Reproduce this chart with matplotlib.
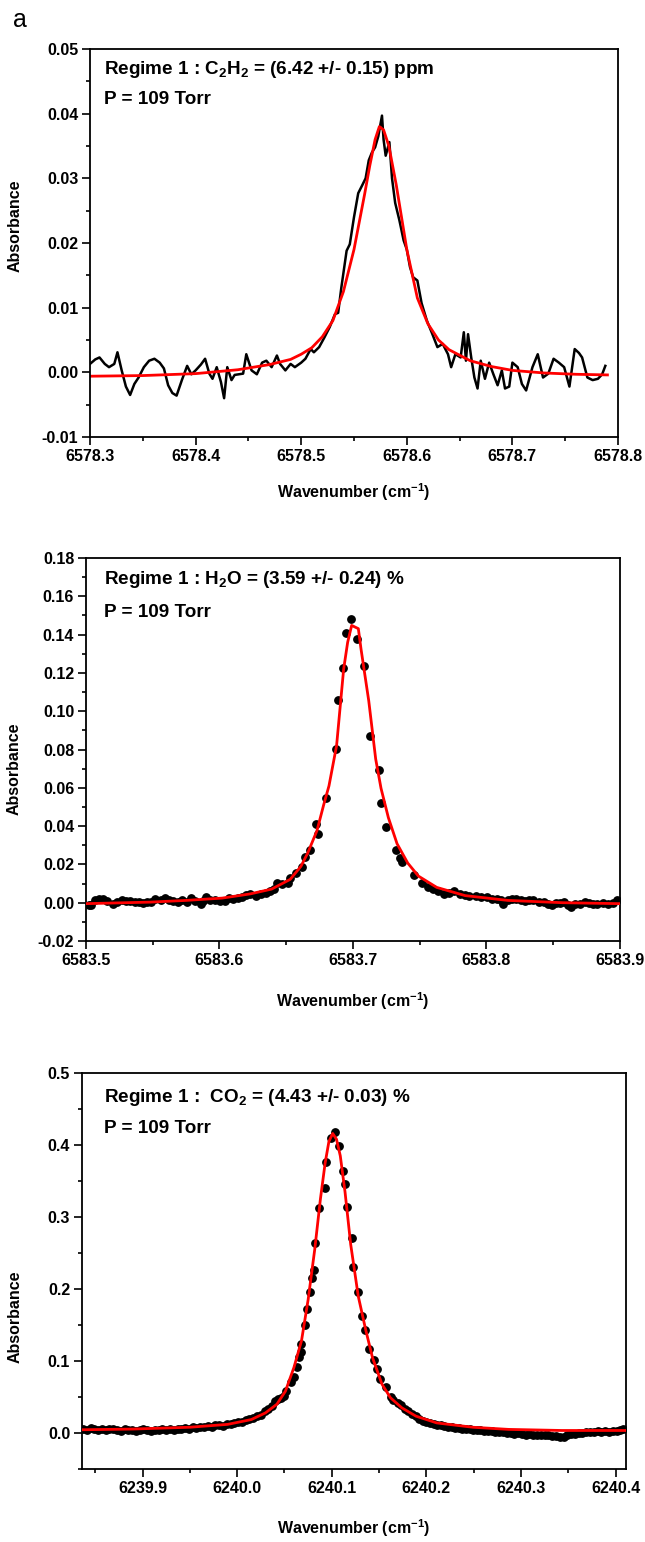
# -*- coding: utf-8 -*-

import matplotlib
matplotlib.use('Agg')
import matplotlib.pyplot as plt
from matplotlib.ticker import MultipleLocator, FormatStrFormatter

# шрифти як у Origin (Arial bold)
plt.rcParams['font.family'] = ['Liberation Sans', 'DejaVu Sans']
plt.rcParams['font.weight'] = 'bold'
plt.rcParams['mathtext.fontset'] = 'custom'
plt.rcParams['mathtext.rm'] = 'Liberation Sans:bold'
plt.rcParams['mathtext.bf'] = 'Liberation Sans:bold'
plt.rcParams['mathtext.it'] = 'Liberation Sans:bold'

# ---- панель 1: C2H2, виміряний спектр (лінія) + фіт
c2h2_x = [6578.300, 6578.305, 6578.309, 6578.314, 6578.318, 6578.323, 6578.326, 6578.330,
          6578.334, 6578.338, 6578.342, 6578.346, 6578.351, 6578.356, 6578.361, 6578.366,
          6578.370, 6578.374, 6578.378, 6578.382, 6578.387, 6578.392, 6578.396, 6578.400,
          6578.405, 6578.409, 6578.413, 6578.416, 6578.420, 6578.424, 6578.427, 6578.430,
          6578.434, 6578.437, 6578.441, 6578.445, 6578.448, 6578.453, 6578.458, 6578.463,
          6578.467, 6578.472, 6578.477, 6578.480, 6578.485, 6578.490, 6578.494, 6578.500,
          6578.504, 6578.509, 6578.512, 6578.517, 6578.522, 6578.527, 6578.532, 6578.535,
          6578.538, 6578.543, 6578.546, 6578.550, 6578.554, 6578.558, 6578.561, 6578.564,
          6578.567, 6578.570, 6578.573, 6578.5765, 6578.578, 6578.580, 6578.5835, 6578.586,
          6578.589, 6578.593, 6578.597, 6578.600, 6578.603, 6578.606, 6578.610, 6578.614,
          6578.619, 6578.624, 6578.629, 6578.634, 6578.639, 6578.642, 6578.646, 6578.651,
          6578.654, 6578.656, 6578.658, 6578.661, 6578.664, 6578.667, 6578.670, 6578.674,
          6578.678, 6578.682, 6578.686, 6578.690, 6578.693, 6578.697, 6578.700, 6578.705,
          6578.709, 6578.713, 6578.719, 6578.724, 6578.729, 6578.734, 6578.739, 6578.744,
          6578.749, 6578.754, 6578.759, 6578.763, 6578.766, 6578.771, 6578.776, 6578.781,
          6578.785, 6578.788]
c2h2_y = [0.0013, 0.0020, 0.0023, 0.0013, 0.0008, 0.0013, 0.0031, 0.0003,
          -0.0022, -0.0035, -0.0018, -0.0008, 0.0008, 0.0018, 0.0021, 0.0015,
          0.0006, -0.0020, -0.0032, -0.0036, -0.0012, 0.0010, -0.0003, 0.0003,
          0.0012, 0.0021, -0.0002, -0.0010, 0.0008, -0.0015, -0.0040, 0.0008,
          -0.0012, -0.0004, -0.0003, -0.0002, 0.0028, 0.0003, -0.0003, 0.0015,
          0.0018, 0.0008, 0.0026, 0.0013, 0.0003, 0.0013, 0.0008, 0.0015,
          0.0021, 0.0036, 0.0031, 0.0039, 0.0054, 0.0070, 0.0090, 0.0092,
          0.0131, 0.0188, 0.0198, 0.0240, 0.0277, 0.0290, 0.0300, 0.0328,
          0.0340, 0.0348, 0.0365, 0.0397, 0.0360, 0.0335, 0.0356, 0.0300,
          0.0262, 0.0235, 0.0204, 0.0190, 0.0163, 0.0147, 0.0142, 0.0107,
          0.0080, 0.0060, 0.0039, 0.0044, 0.0028, 0.0008, 0.0028, 0.0023,
          0.0062, 0.0018, 0.0059, 0.0023, -0.0008, -0.0025, 0.0018, -0.0010,
          0.0015, -0.0003, -0.0020, 0.0003, -0.0025, -0.0022, 0.0015, 0.0008,
          -0.0018, -0.0028, 0.0008, 0.0028, -0.0008, -0.0002, 0.0021, 0.0015,
          0.0008, -0.0022, 0.0036, 0.0030, 0.0023, -0.0008, -0.0012, -0.0010,
          -0.0003, 0.0010]
c2h2_fit_x = [6578.30, 6578.35, 6578.40, 6578.44, 6578.47, 6578.49, 6578.50, 6578.51,
              6578.52, 6578.53, 6578.54, 6578.55, 6578.56, 6578.565, 6578.57, 6578.574,
              6578.578, 6578.583, 6578.59, 6578.60, 6578.61, 6578.62, 6578.63, 6578.64,
              6578.66, 6578.68, 6578.70, 6578.73, 6578.76, 6578.79]
c2h2_fit_y = [-0.0006, -0.0005, -0.0002, 0.0004, 0.0012, 0.0020, 0.0028, 0.0038,
              0.0055, 0.0080, 0.0125, 0.0190, 0.0275, 0.0320, 0.0360, 0.0380,
              0.0375, 0.0350, 0.0290, 0.0190, 0.0115, 0.0075, 0.0050, 0.0035,
              0.0018, 0.0009, 0.0003, -0.0001, -0.0003, -0.0004]

# ---- панель 2: H2O, точки + фіт
h2o_x = [6583.502, 6583.504, 6583.507, 6583.510, 6583.513, 6583.516, 6583.520, 6583.523,
         6583.527, 6583.530, 6583.533, 6583.537, 6583.540, 6583.543, 6583.546, 6583.549,
         6583.552, 6583.556, 6583.559, 6583.562, 6583.565, 6583.569, 6583.572, 6583.576,
         6583.579, 6583.582, 6583.586, 6583.588, 6583.590, 6583.593, 6583.597, 6583.600,
         6583.604, 6583.607, 6583.610, 6583.614, 6583.617, 6583.620, 6583.623, 6583.627,
         6583.631, 6583.635, 6583.638, 6583.641, 6583.643, 6583.647, 6583.651, 6583.653,
         6583.657, 6583.662, 6583.664, 6583.668, 6583.672, 6583.674, 6583.680, 6583.6875,
         6583.689, 6583.6925, 6583.695, 6583.6983, 6583.703, 6583.708, 6583.713, 6583.7198,
         6583.721, 6583.7247, 6583.732, 6583.735, 6583.737, 6583.746, 6583.752, 6583.756,
         6583.760, 6583.764, 6583.768, 6583.772, 6583.776, 6583.780, 6583.784, 6583.787,
         6583.792, 6583.796, 6583.800, 6583.804, 6583.808, 6583.811, 6583.812, 6583.816,
         6583.819, 6583.822, 6583.826, 6583.829, 6583.832, 6583.835, 6583.839, 6583.843,
         6583.846, 6583.849, 6583.852, 6583.855, 6583.858, 6583.861, 6583.863, 6583.866,
         6583.870, 6583.874, 6583.877, 6583.880, 6583.883, 6583.887, 6583.891, 6583.895,
         6583.898]
h2o_y = [-0.0010, -0.0014, 0.0012, 0.0020, 0.0017, 0.0008, -0.0005, 0.0003,
         0.0012, 0.0007, 0.0008, 0.0003, 0.0005, -0.0002, 0.0002, 0.0003,
         0.0020, 0.0015, 0.0024, 0.0012, 0.0008, 0.0003, 0.0012, 0.0005,
         0.0024, 0.0010, -0.0005, 0.0008, 0.0029, 0.0015, 0.0012, 0.0007,
         0.0007, 0.0024, 0.0020, 0.0024, 0.0030, 0.0040, 0.0046, 0.0037,
         0.0045, 0.0051, 0.0060, 0.0071, 0.0105, 0.0100, 0.0102, 0.0130,
         0.0153, 0.0186, 0.0241, 0.0275, 0.0410, 0.0359, 0.0546, 0.0805,
         0.1059, 0.1224, 0.1409, 0.1480, 0.1378, 0.1238, 0.0868, 0.0695,
         0.0520, 0.0393, 0.0275, 0.0232, 0.0215, 0.0147, 0.0105, 0.0080,
         0.0070, 0.0063, 0.0046, 0.0052, 0.0063, 0.0046, 0.0040, 0.0037,
         0.0037, 0.0030, 0.0030, 0.0018, 0.0020, 0.0012, -0.0005, 0.0015,
         0.0018, 0.0020, 0.0012, 0.0008, 0.0012, 0.0012, 0.0005, 0.0003,
         -0.0005, -0.0014, -0.0003, 0.0000, 0.0003, -0.0010, -0.0022, -0.0005,
         -0.0005, 0.0003, -0.0002, -0.0008, -0.0005, -0.0002, -0.0005, -0.0003,
         0.0012]
h2o_fit_x = [6583.500, 6583.548, 6583.575, 6583.602, 6583.623, 6583.639, 6583.653, 6583.661,
             6583.666, 6583.673, 6583.678, 6583.682, 6583.6877, 6583.693, 6583.696, 6583.699,
             6583.704, 6583.706, 6583.7118, 6583.717, 6583.721, 6583.7265, 6583.733, 6583.741,
             6583.749, 6583.7627, 6583.784, 6583.816, 6583.857, 6583.900]
h2o_fit_y = [-0.0005, 0.0003, 0.0012, 0.0024, 0.0046, 0.0071, 0.0122, 0.0190,
             0.0258, 0.0376, 0.0510, 0.0610, 0.0820, 0.1220, 0.1360, 0.1448,
             0.1431, 0.1325, 0.1054, 0.0750, 0.0597, 0.0444, 0.0308, 0.0207,
             0.0139, 0.0080, 0.0037, 0.0012, 0.0000, -0.0005]

# ---- панель 3: CO2, точки + фіт
co2_x = [6239.837, 6239.841, 6239.845, 6239.849, 6239.853, 6239.857, 6239.861, 6239.865,
         6239.869, 6239.873, 6239.877, 6239.881, 6239.885, 6239.889, 6239.893, 6239.897,
         6239.901, 6239.905, 6239.909, 6239.913, 6239.917, 6239.921, 6239.925, 6239.929,
         6239.933, 6239.937, 6239.941, 6239.945, 6239.949, 6239.953, 6239.957, 6239.961,
         6239.965, 6239.969, 6239.973, 6239.977, 6239.981, 6239.985, 6239.989, 6239.993,
         6239.997, 6240.001, 6240.005, 6240.009, 6240.013, 6240.017, 6240.021, 6240.025,
         6240.029, 6240.033, 6240.037, 6240.040, 6240.043, 6240.046, 6240.050, 6240.052,
         6240.057, 6240.060, 6240.063, 6240.065, 6240.067, 6240.068, 6240.072, 6240.074,
         6240.077, 6240.079, 6240.081, 6240.0825, 6240.087, 6240.093, 6240.094, 6240.099,
         6240.103, 6240.108, 6240.112, 6240.114, 6240.116, 6240.1215, 6240.122, 6240.1275,
         6240.1321, 6240.1347, 6240.1389, 6240.1442, 6240.148, 6240.151, 6240.1577, 6240.1623,
         6240.165, 6240.170, 6240.1736, 6240.177, 6240.1811, 6240.185, 6240.1887, 6240.1925,
         6240.1962, 6240.200, 6240.204, 6240.208, 6240.2113, 6240.215, 6240.219, 6240.223,
         6240.227, 6240.2302, 6240.234, 6240.238, 6240.242, 6240.246, 6240.249, 6240.253,
         6240.257, 6240.261, 6240.265, 6240.269, 6240.273, 6240.277, 6240.281, 6240.285,
         6240.289, 6240.293, 6240.297, 6240.301, 6240.305, 6240.309, 6240.313, 6240.317,
         6240.321, 6240.325, 6240.329, 6240.333, 6240.337, 6240.341, 6240.345, 6240.349,
         6240.353, 6240.357, 6240.361, 6240.365, 6240.369, 6240.373, 6240.377, 6240.381,
         6240.385, 6240.389, 6240.393, 6240.397, 6240.401, 6240.405, 6240.408]
co2_y = [0.0060, 0.0045, 0.0070, 0.0050, 0.0040, 0.0055, 0.0035, 0.0050,
         0.0060, 0.0040, 0.0030, 0.0050, 0.0035, 0.0045, 0.0025, 0.0040,
         0.0055, 0.0035, 0.0030, 0.0045, 0.0040, 0.0050, 0.0035, 0.0055,
         0.0045, 0.0060, 0.0050, 0.0070, 0.0060, 0.0085, 0.0075, 0.0090,
         0.0080, 0.0095, 0.0090, 0.0105, 0.0110, 0.0100, 0.0120, 0.0125,
         0.0140, 0.0150, 0.0155, 0.0175, 0.0190, 0.0210, 0.0235, 0.0245,
         0.0300, 0.0330, 0.0380, 0.0440, 0.0467, 0.0491, 0.0520, 0.0584,
         0.0710, 0.0771, 0.0911, 0.1050, 0.1121, 0.1238, 0.1495, 0.1720,
         0.1960, 0.2150, 0.2257, 0.2633, 0.3125, 0.3408, 0.3763, 0.4091,
         0.4182, 0.3986, 0.3636, 0.3462, 0.3144, 0.2715, 0.2304, 0.1963,
         0.1626, 0.1425, 0.1168, 0.1019, 0.0888, 0.0748, 0.0640, 0.0500,
         0.0460, 0.0410, 0.0388, 0.0340, 0.0304, 0.0270, 0.0234, 0.0200,
         0.0164, 0.0150, 0.0135, 0.0125, 0.0117, 0.0105, 0.0095, 0.0090,
         0.0080, 0.0070, 0.0065, 0.0060, 0.0050, 0.0055, 0.0047, 0.0040,
         0.0035, 0.0030, 0.0025, 0.0023, 0.0015, 0.0010, 0.0012, 0.0005,
         -0.0005, -0.0010, -0.0005, -0.0015, -0.0023, -0.0020, -0.0030, -0.0025,
         -0.0030, -0.0033, -0.0025, -0.0035, -0.0040, -0.0050, -0.0061, -0.0030,
         -0.0015, -0.0010, 0.0000, 0.0005, 0.0015, 0.0010, 0.0020, 0.0023,
         0.0015, 0.0025, 0.0020, 0.0030, 0.0025, 0.0040, 0.0060]
co2_fit_x = [6239.836, 6239.890, 6239.950, 6239.990, 6240.015, 6240.030, 6240.042, 6240.051,
             6240.060, 6240.068, 6240.075, 6240.082, 6240.088, 6240.093, 6240.097, 6240.101,
             6240.105, 6240.109, 6240.114, 6240.120, 6240.128, 6240.136, 6240.143, 6240.153,
             6240.162, 6240.174, 6240.189, 6240.211, 6240.249, 6240.287, 6240.343, 6240.410]
co2_fit_y = [0.0045, 0.0055, 0.0080, 0.0120, 0.0187, 0.0280, 0.0400, 0.0580,
             0.0910, 0.1280, 0.1850, 0.2550, 0.3250, 0.3750, 0.4050, 0.4160,
             0.4080, 0.3850, 0.3350, 0.2620, 0.1900, 0.1425, 0.1050, 0.0680,
             0.0490, 0.0350, 0.0234, 0.0140, 0.0080, 0.0050, 0.0035, 0.0035]

fig = plt.figure(figsize=(6.45, 15.42), dpi=100)
fig.text(13 / 645, 1 - 20 / 1542, 'a', fontsize=18, fontweight='normal', va='center')


def style_axes(ax, xlim, ylim, xmaj, ymaj, yfmt, xfmt, xlab_y, ylab_x, ylab_y):
    ax.set_xlim(*xlim)
    ax.set_ylim(*ylim)
    ax.xaxis.set_major_locator(MultipleLocator(xmaj))
    ax.xaxis.set_minor_locator(MultipleLocator(xmaj / 2))
    ax.yaxis.set_major_locator(MultipleLocator(ymaj))
    ax.yaxis.set_minor_locator(MultipleLocator(ymaj / 2))
    ax.yaxis.set_major_formatter(FormatStrFormatter(yfmt))
    ax.xaxis.set_major_formatter(FormatStrFormatter(xfmt))
    ax.tick_params(which='major', direction='out', length=5.5, width=1.2, labelsize=11.5, pad=3)
    ax.tick_params(which='minor', direction='out', length=3, width=1.2)
    for s in ax.spines.values():
        s.set_linewidth(1.3)
    for lab in ax.get_xticklabels() + ax.get_yticklabels():
        lab.set_fontweight('bold')
    ax.set_xlabel(r'Wavenumber (cm$^{\mathbf{-1}}$)', fontsize=11.5, fontweight='bold')
    ax.set_ylabel('Absorbance', fontsize=11.5, fontweight='bold')
    ax.xaxis.set_label_coords(0.5, xlab_y)
    ax.yaxis.set_label_coords(ylab_x, ylab_y)


# панель 1
ax1 = fig.add_axes([90 / 645, 1 - 437 / 1542, 528 / 645, 388 / 1542])
ax1.plot(c2h2_x, c2h2_y, color='black', lw=1.8)
ax1.plot(c2h2_fit_x, c2h2_fit_y, color='red', lw=2.0)
style_axes(ax1, (6578.3, 6578.8), (-0.01, 0.05), 0.1, 0.01, '%.2f', '%.1f', -0.113, -0.128, 0.544)
ax1.text(0.026, 0.946, r'Regime 1 : C$_\mathbf{2}$H$_\mathbf{2}$ = (6.42 +/- 0.15) ppm',
         transform=ax1.transAxes, fontsize=13.6, va='center')
ax1.text(0.026, 0.869, 'P = 109 Torr', transform=ax1.transAxes, fontsize=13.6, va='center')

# панель 2
ax2 = fig.add_axes([86 / 645, 1 - 941 / 1542, 534 / 645, 383 / 1542])
ax2.plot(h2o_x, h2o_y, 'o', color='black', ms=5.3, zorder=2)
ax2.plot(h2o_fit_x, h2o_fit_y, color='red', lw=2.0, zorder=3)
style_axes(ax2, (6583.5, 6583.9), (-0.02, 0.18), 0.1, 0.02, '%.2f', '%.1f', -0.13, -0.12, 0.449)
ax2.text(0.034, 0.943, r'Regime 1 : H$_\mathbf{2}$O = (3.59 +/- 0.24) %',
         transform=ax2.transAxes, fontsize=13.6, va='center')
ax2.text(0.034, 0.859, 'P = 109 Torr', transform=ax2.transAxes, fontsize=13.6, va='center')

# панель 3
ax3 = fig.add_axes([82 / 645, 1 - 1469 / 1542, 544 / 645, 396 / 1542])
ax3.plot(co2_x, co2_y, 'o', color='black', ms=5.3, zorder=2)
ax3.plot(co2_fit_x, co2_fit_y, color='red', lw=2.0, zorder=3)
style_axes(ax3, (6239.836, 6240.411), (-0.05, 0.5), 0.1, 0.1, '%.1f', '%.1f', -0.122, -0.11, 0.384)
ax3.text(0.04, 0.939, r'Regime 1 :  CO$_\mathbf{2}$ = (4.43 +/- 0.03) %',
         transform=ax3.transAxes, fontsize=13.6, va='center')
ax3.text(0.04, 0.861, 'P = 109 Torr', transform=ax3.transAxes, fontsize=13.6, va='center')

plt.savefig('out.png', dpi=100)
